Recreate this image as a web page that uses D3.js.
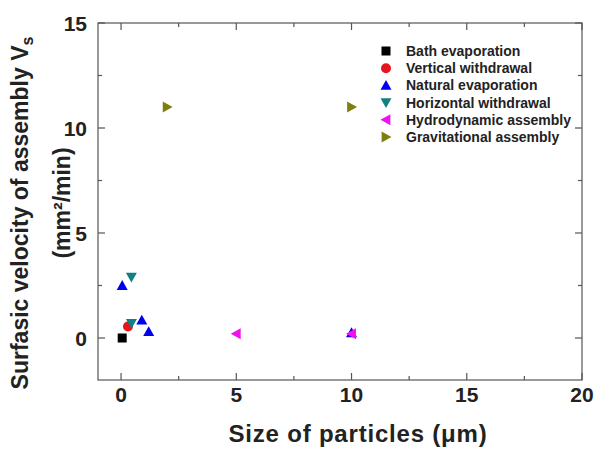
<!DOCTYPE html>
<html lang="en">
<head>
<meta charset="utf-8">
<title>Surfasic velocity vs particle size</title>
<script src="https://cdnjs.cloudflare.com/ajax/libs/d3/7.8.5/d3.min.js"></script>
<style>
  body { margin: 0; background: #fff; }
  text { font-family: "Liberation Sans", Arial, sans-serif; font-weight: bold; fill: #222; }
</style>
</head>
<body>
<script>
// series names and colours
var seriesNames = ["Bath evaporation", "Vertical withdrawal", "Natural evaporation",
                   "Horizontal withdrawal", "Hydrodynamic assembly", "Gravitational assembly"];
var seriesColors = ["#000000", "#e8141c", "#0000f0", "#118080", "#f010f0", "#7f7f10"];
var seriesSymbols = ["square", "circle", "up", "down", "left", "right"];

// particle size (um) and velocity (mm2/min) for each series
var bathX = [0.05],              bathY = [0.0];
var vertX = [0.3],               vertY = [0.55];
var natX  = [0.05, 0.9, 1.2, 10], natY = [2.5, 0.85, 0.3, 0.25];
var horX  = [0.45, 0.45],        horY  = [2.9, 0.7];
var hydX  = [5, 10],             hydY  = [0.2, 0.2];
var gravX = [2, 10],             gravY = [11, 11];

var xTicks = [0, 5, 10, 15, 20];
var yTicks = [0, 5, 10, 15];

var allX = [bathX, vertX, natX, horX, hydX, gravX];
var allY = [bathY, vertY, natY, horY, hydY, gravY];

var W = 597, H = 451;
var svg = d3.select("body").append("svg").attr("width", W).attr("height", H);

var x = d3.scaleLinear().domain([-1, 20]).range([98, 582]);
var y = d3.scaleLinear().domain([-2, 15]).range([380, 23]);

var minorX = d3.range(0, 20.01, 2.5);
var minorY = d3.range(0, 15.01, 2.5);

// frame
svg.append("rect")
  .attr("x", x(-1)).attr("y", y(15))
  .attr("width", x(20) - x(-1)).attr("height", y(-2) - y(15))
  .attr("fill", "none").attr("stroke", "#555").attr("stroke-width", 1.2);

// ticks (inward) on all four sides
function tickLen(v) { return (v % 5 === 0) ? 7 : 4; }
var tg = svg.append("g").attr("stroke", "#555").attr("stroke-width", 1.2);
minorX.forEach(function (v) {
  tg.append("line").attr("x1", x(v)).attr("x2", x(v)).attr("y1", y(-2)).attr("y2", y(-2) - tickLen(v));
  tg.append("line").attr("x1", x(v)).attr("x2", x(v)).attr("y1", y(15)).attr("y2", y(15) + tickLen(v));
});
minorY.forEach(function (v) {
  tg.append("line").attr("y1", y(v)).attr("y2", y(v)).attr("x1", x(-1)).attr("x2", x(-1) + tickLen(v));
  tg.append("line").attr("y1", y(v)).attr("y2", y(v)).attr("x1", x(20)).attr("x2", x(20) - tickLen(v));
});

// tick labels
svg.selectAll(".xl").data(xTicks).enter().append("text")
  .attr("x", function (d) { return x(d); }).attr("y", 402)
  .attr("text-anchor", "middle").attr("font-size", 21)
  .text(function (d) { return d; });
svg.selectAll(".yl").data(yTicks).enter().append("text")
  .attr("x", 87).attr("y", function (d) { return y(d) + 7.5; })
  .attr("text-anchor", "end").attr("font-size", 21)
  .text(function (d) { return d; });

// axis titles
svg.append("text").attr("x", 358).attr("y", 442)
  .attr("text-anchor", "middle").attr("font-size", 24).attr("letter-spacing", 0.8)
  .text("Size of particles (\u03bcm)");

var yt = svg.append("text").attr("transform", "translate(28,213) rotate(-90)")
  .attr("text-anchor", "middle").attr("font-size", 23);
yt.append("tspan").text("Surfasic velocity of assembly V");
yt.append("tspan").attr("font-size", 16).attr("dy", 5).text("s");

svg.append("text").attr("transform", "translate(70,203) rotate(-90)")
  .attr("text-anchor", "middle").attr("font-size", 23)
  .text("(mm\u00b2/min)");

// marker drawing
function marker(g, sym, cx, cy, color) {
  var s = 5.5;
  if (sym === "square") {
    g.append("rect").attr("x", cx - 4.5).attr("y", cy - 4.5).attr("width", 9).attr("height", 9).attr("fill", color);
  } else if (sym === "circle") {
    g.append("circle").attr("cx", cx).attr("cy", cy).attr("r", 5).attr("fill", color);
  } else {
    var pts;
    if (sym === "up") pts = [[cx, cy - s], [cx + s, cy + s * 0.8], [cx - s, cy + s * 0.8]];
    if (sym === "down") pts = [[cx, cy + s], [cx + s, cy - s * 0.8], [cx - s, cy - s * 0.8]];
    if (sym === "left") pts = [[cx - s, cy], [cx + s * 0.8, cy - s], [cx + s * 0.8, cy + s]];
    if (sym === "right") pts = [[cx + s, cy], [cx - s * 0.8, cy - s], [cx - s * 0.8, cy + s]];
    g.append("polygon").attr("points", pts.map(function (p) { return p.join(","); }).join(" ")).attr("fill", color);
  }
}

var pg = svg.append("g");
seriesNames.forEach(function (name, i) {
  allX[i].forEach(function (xv, j) {
    marker(pg, seriesSymbols[i], x(xv), y(allY[i][j]), seriesColors[i]);
  });
});

// legend
var lg = svg.append("g");
seriesNames.forEach(function (name, i) {
  var ly = 51 + i * 17.2;
  marker(lg, seriesSymbols[i], 386, ly, seriesColors[i]);
  lg.append("text").attr("x", 406).attr("y", ly + 5).attr("font-size", 14).text(name);
});
</script>
</body>
</html>
